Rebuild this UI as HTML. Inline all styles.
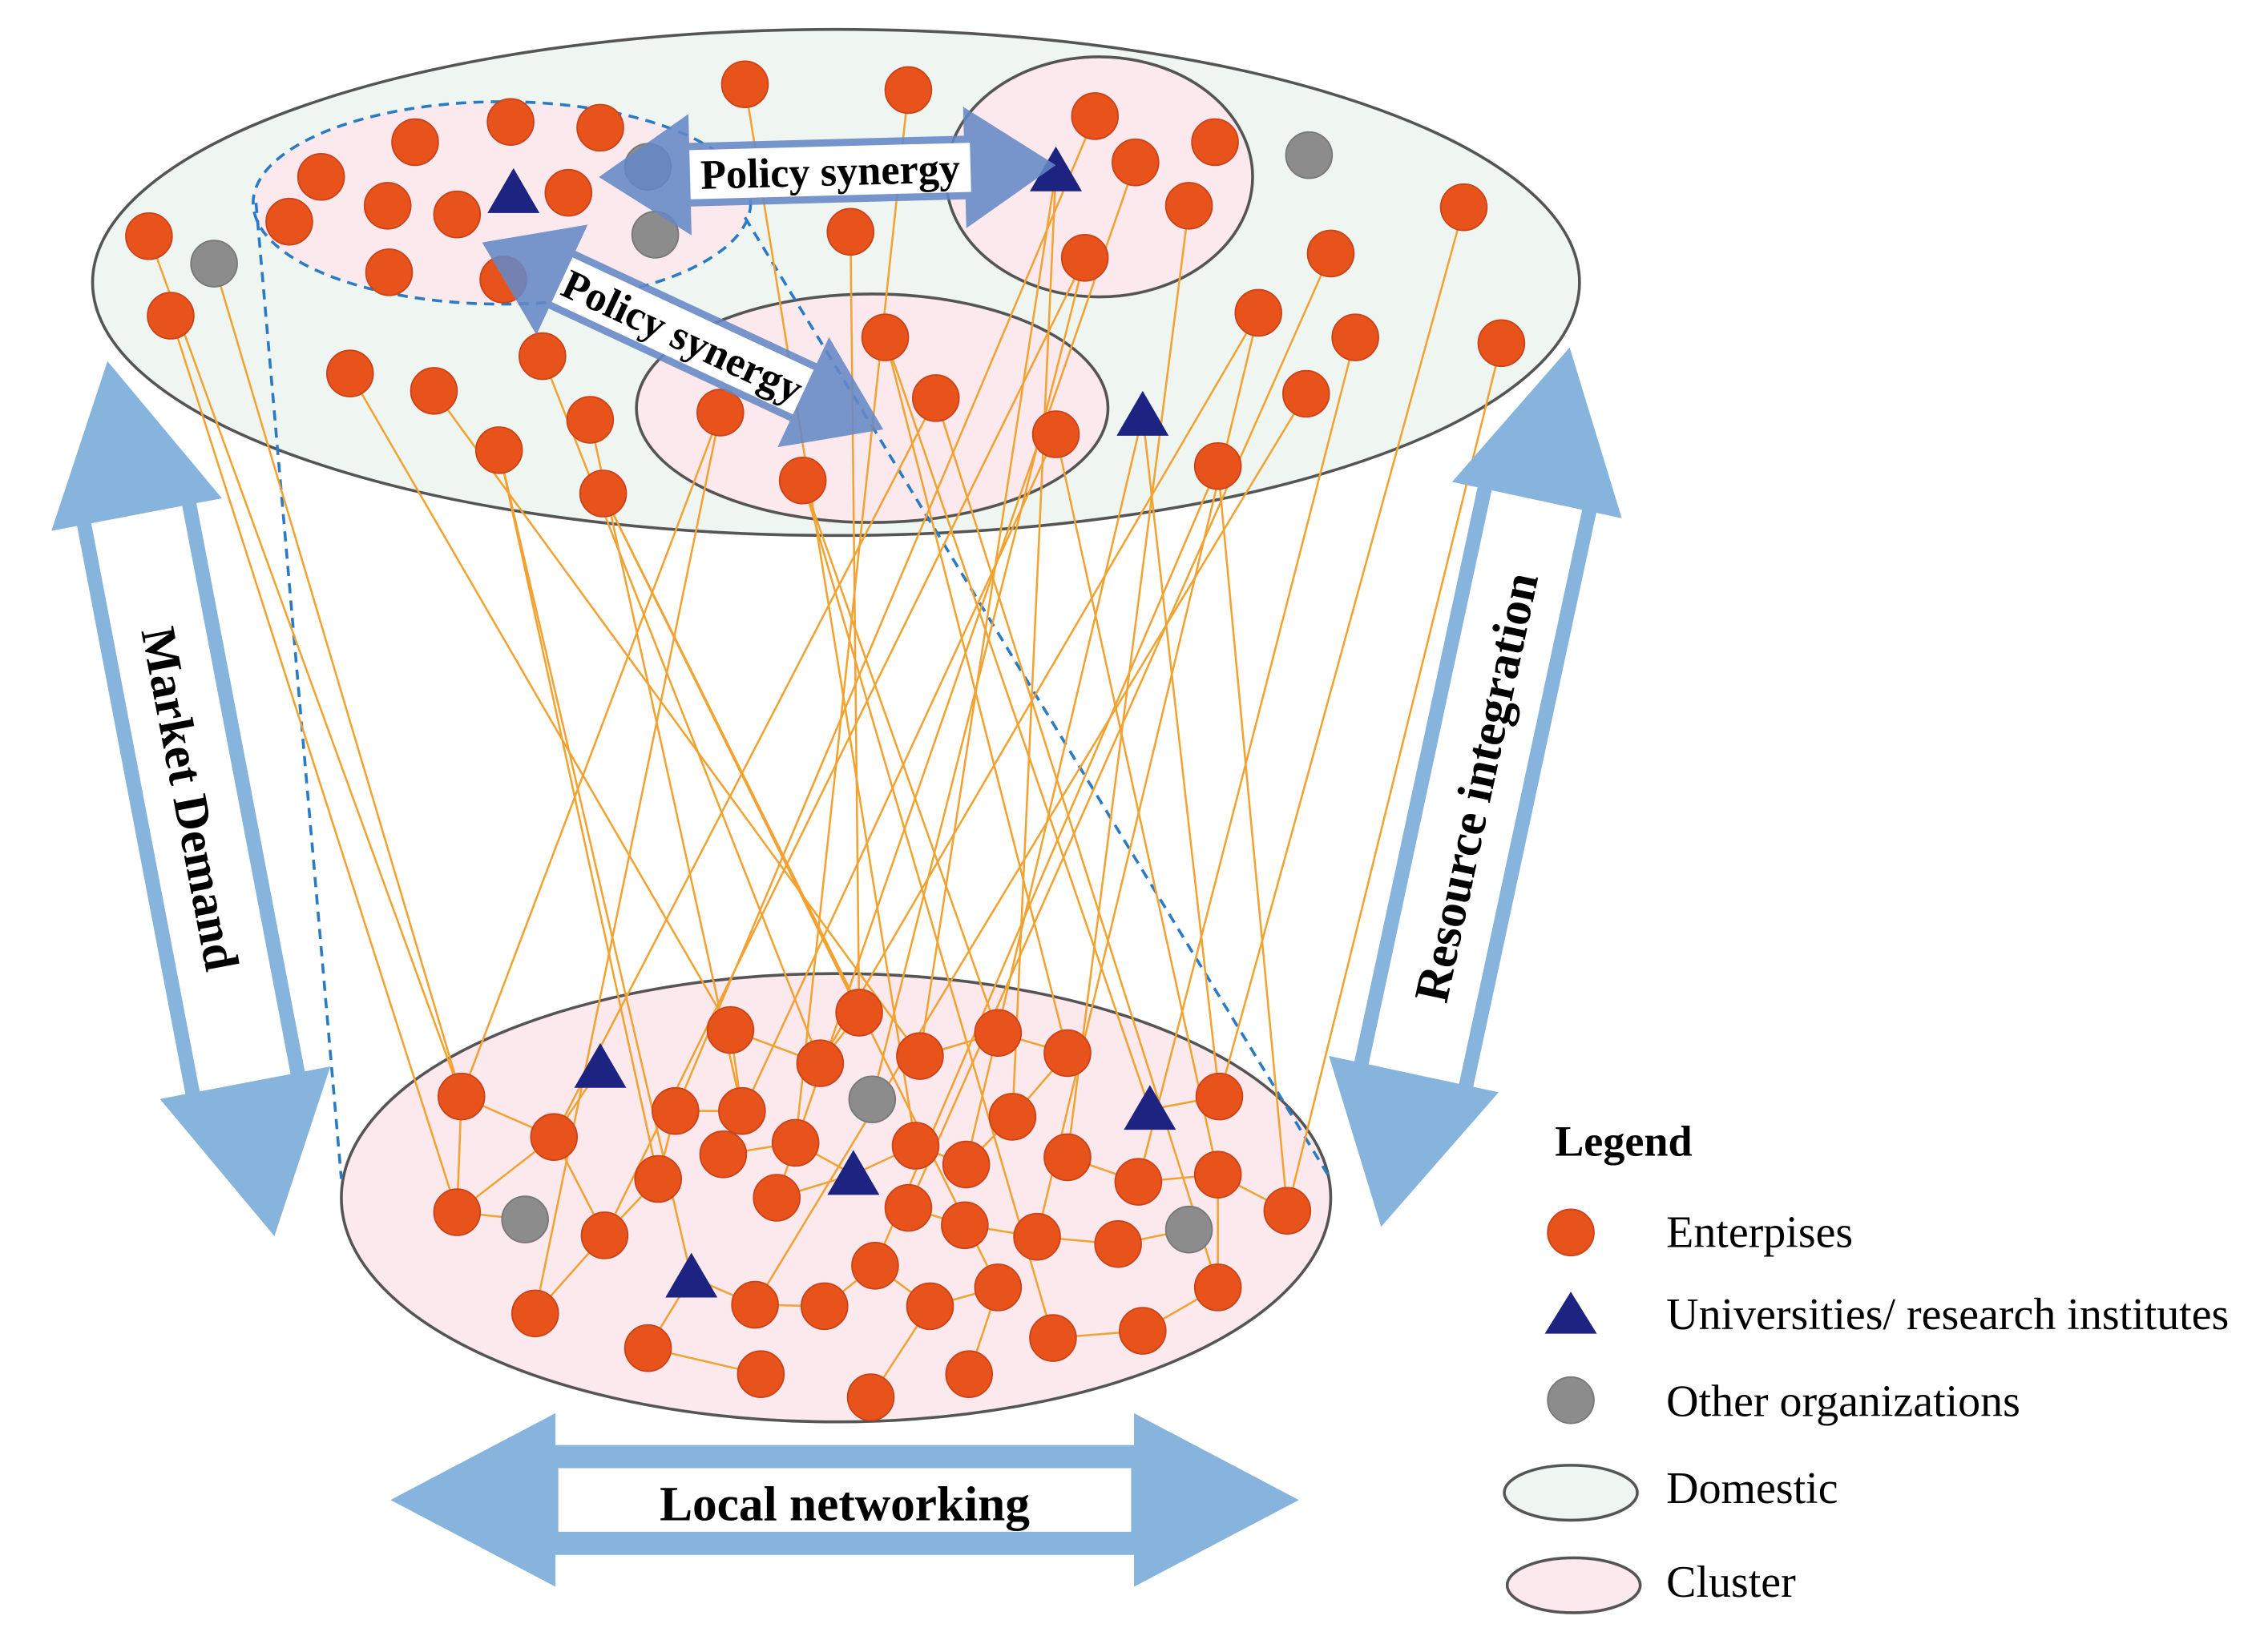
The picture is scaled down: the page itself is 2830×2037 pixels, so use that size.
<!DOCTYPE html>
<html><head><meta charset="utf-8"><style>
html,body{margin:0;padding:0;background:#fff;}
svg{display:block;}
text{font-family:"Liberation Serif",serif;}
</style></head><body>
<svg width="2830" height="2037" viewBox="0 0 1568 1128" xmlns="http://www.w3.org/2000/svg">
<defs>
<g id="e"><circle r="16" fill="#e8531b" stroke="#c9431a" stroke-width="1"/></g>
<g id="g"><circle r="16" fill="#8c8c8c" stroke="#777" stroke-width="1"/></g>
<g id="t"><polygon points="0,-17 18,14 -18,14" fill="#1d2380"/></g>
</defs>
<ellipse cx="578" cy="195" rx="514" ry="175" fill="#eff6f2" stroke="#555" stroke-width="2"/>
<ellipse cx="347" cy="140" rx="172" ry="70" fill="#fbe9ee" stroke="#2a7bc4" stroke-width="2" stroke-dasharray="7,5"/>
<ellipse cx="760" cy="122" rx="106" ry="83" fill="#fbe9ee" stroke="#555" stroke-width="2"/>
<ellipse cx="603" cy="282" rx="163" ry="79" fill="#fbe9ee" stroke="#555" stroke-width="2"/>
<ellipse cx="578" cy="828" rx="342" ry="155" fill="#fbe9ee" stroke="#555" stroke-width="2"/>
<line x1="177" y1="140" x2="236" y2="815" stroke="#2a7bc4" stroke-width="2" stroke-dasharray="7,5"/>
<line x1="515" y1="150" x2="918" y2="812" stroke="#2a7bc4" stroke-width="2" stroke-dasharray="7,5"/>
<g stroke="#f2a230" stroke-width="1.4">
<line x1="118" y1="218" x2="316" y2="838"/><line x1="148" y1="182" x2="319" y2="758"/>
<line x1="242" y1="258" x2="505" y2="712"/><line x1="300" y1="270" x2="636" y2="730"/>
<line x1="375" y1="246" x2="567" y2="735"/><line x1="408" y1="290" x2="513" y2="768"/>
<line x1="345" y1="311" x2="455" y2="815"/><line x1="417" y1="341" x2="594" y2="700"/>
<line x1="498" y1="285" x2="319" y2="758"/><line x1="555" y1="332" x2="690" y2="714"/>
<line x1="612" y1="233" x2="738" y2="728"/><line x1="647" y1="275" x2="383" y2="786"/>
<line x1="730" y1="300" x2="500" y2="798"/><line x1="588" y1="160" x2="594" y2="700"/>
<line x1="628" y1="62" x2="550" y2="790"/><line x1="515" y1="58" x2="633" y2="792"/>
<line x1="730" y1="118" x2="700" y2="772"/><line x1="757" y1="80" x2="467" y2="768"/>
<line x1="750" y1="178" x2="418" y2="854"/><line x1="785" y1="112" x2="537" y2="828"/>
<line x1="822" y1="142" x2="738" y2="800"/><line x1="790" y1="287" x2="843" y2="758"/>
<line x1="790" y1="287" x2="668" y2="805"/><line x1="842" y1="322" x2="890" y2="837"/>
<line x1="903" y1="272" x2="522" y2="902"/><line x1="920" y1="175" x2="628" y2="835"/>
<line x1="937" y1="233" x2="787" y2="817"/><line x1="870" y1="216" x2="717" y2="855"/>
<line x1="1012" y1="143" x2="843" y2="758"/><line x1="1038" y1="237" x2="890" y2="837"/>
<line x1="842" y1="322" x2="605" y2="875"/><line x1="730" y1="300" x2="842" y2="812"/>
<line x1="612" y1="233" x2="795" y2="767"/><line x1="555" y1="332" x2="728" y2="925"/>
<line x1="498" y1="285" x2="370" y2="908"/><line x1="417" y1="341" x2="690" y2="890"/>
<line x1="345" y1="311" x2="478" y2="883"/><line x1="647" y1="275" x2="842" y2="890"/>
<line x1="750" y1="178" x2="603" y2="760"/><line x1="870" y1="216" x2="567" y2="735"/>
<line x1="103" y1="163" x2="319" y2="758"/><line x1="730" y1="118" x2="636" y2="730"/>
<line x1="319" y1="758" x2="383" y2="786"/><line x1="383" y1="786" x2="415" y2="738"/>
<line x1="316" y1="838" x2="383" y2="786"/><line x1="383" y1="786" x2="418" y2="854"/>
<line x1="418" y1="854" x2="455" y2="815"/><line x1="455" y1="815" x2="467" y2="768"/>
<line x1="467" y1="768" x2="513" y2="768"/><line x1="513" y1="768" x2="505" y2="712"/>
<line x1="500" y1="798" x2="550" y2="790"/><line x1="550" y1="790" x2="590" y2="812"/>
<line x1="537" y1="828" x2="590" y2="812"/><line x1="590" y1="812" x2="633" y2="792"/>
<line x1="633" y1="792" x2="668" y2="805"/><line x1="668" y1="805" x2="700" y2="772"/>
<line x1="628" y1="835" x2="667" y2="847"/><line x1="667" y1="847" x2="717" y2="855"/>
<line x1="717" y1="855" x2="773" y2="860"/><line x1="773" y1="860" x2="822" y2="850"/>
<line x1="738" y1="800" x2="787" y2="817"/><line x1="787" y1="817" x2="842" y2="812"/>
<line x1="795" y1="767" x2="843" y2="758"/><line x1="842" y1="812" x2="890" y2="837"/>
<line x1="418" y1="854" x2="370" y2="908"/><line x1="448" y1="932" x2="526" y2="950"/>
<line x1="478" y1="883" x2="522" y2="902"/><line x1="522" y1="902" x2="570" y2="903"/>
<line x1="570" y1="903" x2="605" y2="875"/><line x1="605" y1="875" x2="643" y2="903"/>
<line x1="643" y1="903" x2="690" y2="890"/><line x1="670" y1="950" x2="690" y2="890"/>
<line x1="728" y1="925" x2="790" y2="920"/><line x1="790" y1="920" x2="842" y2="890"/>
<line x1="636" y1="730" x2="690" y2="714"/><line x1="690" y1="714" x2="738" y2="728"/>
<line x1="594" y1="700" x2="567" y2="735"/><line x1="738" y1="728" x2="700" y2="772"/>
<line x1="363" y1="843" x2="316" y2="838"/><line x1="319" y1="758" x2="316" y2="838"/>
<line x1="448" y1="932" x2="478" y2="883"/><line x1="602" y1="966" x2="643" y2="903"/>
<line x1="842" y1="890" x2="842" y2="812"/><line x1="505" y1="712" x2="567" y2="735"/>
</g>
<g>
<use href="#e" x="515" y="58"/><use href="#e" x="628" y="62"/><use href="#e" x="757" y="80"/>
<use href="#e" x="840" y="98"/><use href="#e" x="785" y="112"/><use href="#e" x="822" y="142"/>
<use href="#e" x="750" y="178"/><use href="#g" x="905" y="107"/><use href="#e" x="1012" y="143"/>
<use href="#e" x="920" y="175"/><use href="#e" x="870" y="216"/><use href="#e" x="937" y="233"/>
<use href="#e" x="1038" y="237"/><use href="#e" x="903" y="272"/><use href="#e" x="842" y="322"/>
<use href="#t" x="790" y="287"/><use href="#e" x="730" y="300"/><use href="#e" x="647" y="275"/>
<use href="#e" x="612" y="233"/><use href="#e" x="588" y="160"/><use href="#e" x="498" y="285"/>
<use href="#e" x="555" y="332"/><use href="#g" x="453" y="162"/><use href="#g" x="448" y="115"/>
<use href="#e" x="393" y="133"/><use href="#e" x="415" y="88"/><use href="#e" x="353" y="84"/>
<use href="#e" x="287" y="98"/><use href="#e" x="222" y="122"/><use href="#e" x="268" y="142"/>
<use href="#e" x="316" y="148"/><use href="#e" x="200" y="153"/><use href="#e" x="269" y="188"/>
<use href="#e" x="348" y="193"/><use href="#t" x="355" y="133"/><use href="#e" x="103" y="163"/>
<use href="#g" x="148" y="182"/><use href="#e" x="118" y="218"/><use href="#e" x="242" y="258"/>
<use href="#e" x="300" y="270"/><use href="#e" x="375" y="246"/><use href="#e" x="408" y="290"/>
<use href="#e" x="345" y="311"/><use href="#e" x="417" y="341"/><use href="#t" x="730" y="118"/>
</g>
<g>
<use href="#e" x="319" y="758"/><use href="#e" x="383" y="786"/><use href="#t" x="415" y="738"/>
<use href="#e" x="316" y="838"/><use href="#g" x="363" y="843"/><use href="#e" x="418" y="854"/>
<use href="#e" x="370" y="908"/><use href="#e" x="448" y="932"/><use href="#t" x="478" y="883"/>
<use href="#e" x="455" y="815"/><use href="#e" x="467" y="768"/><use href="#e" x="505" y="712"/>
<use href="#e" x="513" y="768"/><use href="#e" x="500" y="798"/><use href="#e" x="550" y="790"/>
<use href="#e" x="537" y="828"/><use href="#e" x="522" y="902"/><use href="#e" x="526" y="950"/>
<use href="#e" x="570" y="903"/><use href="#e" x="605" y="875"/><use href="#e" x="602" y="966"/>
<use href="#e" x="643" y="903"/><use href="#e" x="670" y="950"/><use href="#e" x="690" y="890"/>
<use href="#e" x="728" y="925"/><use href="#e" x="790" y="920"/><use href="#e" x="842" y="890"/>
<use href="#e" x="842" y="812"/><use href="#e" x="843" y="758"/><use href="#t" x="795" y="767"/>
<use href="#e" x="787" y="817"/><use href="#e" x="738" y="800"/><use href="#e" x="738" y="728"/>
<use href="#e" x="700" y="772"/><use href="#e" x="690" y="714"/><use href="#e" x="636" y="730"/>
<use href="#e" x="594" y="700"/><use href="#e" x="567" y="735"/><use href="#g" x="603" y="760"/>
<use href="#e" x="633" y="792"/><use href="#t" x="590" y="812"/><use href="#e" x="628" y="835"/>
<use href="#e" x="667" y="847"/><use href="#e" x="668" y="805"/><use href="#e" x="717" y="855"/>
<use href="#e" x="773" y="860"/><use href="#g" x="822" y="850"/><use href="#e" x="890" y="837"/>
</g>
<g transform="translate(572,118) rotate(-1.5)">
<polygon points="-158,0 -95,-42 -95,-22 95,-22 95,-42 158,0 95,42 95,22 -95,22 -95,42" fill="#6487c6" opacity="0.88"/>
<rect x="-95" y="-17" width="194" height="34" fill="#fff"/>
<text x="2" y="10" font-size="29" font-weight="bold" text-anchor="middle">Policy synergy</text>
</g>
<g transform="translate(472,232) rotate(25)">
<polygon points="-153,0 -92,-42 -92,-22 92,-22 92,-42 153,0 92,42 92,22 -92,22 -92,42" fill="#6487c6" opacity="0.88"/>
<rect x="-92" y="-17" width="184" height="34" fill="#fff"/>
<text x="0" y="10" font-size="29" font-weight="bold" text-anchor="middle">Policy synergy</text>
</g>
<g transform="translate(132,552) rotate(79.2)">
<polygon points="-308,0 -200,-60 -200,-42 200,-42 200,-60 308,0 200,60 200,42 -200,42 -200,60" fill="#86b4dc"/>
<rect x="-200" y="-32" width="400" height="64" fill="#fff"/>
<text x="0" y="12" font-size="34" font-weight="bold" text-anchor="middle">Market Demand</text>
</g>
<g transform="translate(1020,544) rotate(-77.9)">
<polygon points="-311,0 -203,-60 -203,-42 203,-42 203,-60 311,0 203,60 203,42 -203,42 -203,60" fill="#86b4dc"/>
<rect x="-203" y="-32" width="406" height="64" fill="#fff"/>
<text x="0" y="12" font-size="34" font-weight="bold" text-anchor="middle">Resource integration</text>
</g>
<g transform="translate(584,1037)">
<polygon points="-314,0 -200,-60 -200,-38 200,-38 200,-60 314,0 200,60 200,38 -200,38 -200,60" fill="#86b4dc"/>
<rect x="-198" y="-22" width="396" height="44" fill="#fff"/>
<text x="0" y="14" font-size="34" font-weight="bold" text-anchor="middle">Local networking</text>
</g>
<text x="1075" y="799" font-size="30" font-weight="bold">Legend</text>
<use href="#e" x="1086" y="852"/>
<text x="1152" y="862" font-size="31">Enterpises</text>
<polygon points="1086,893 1104,922 1068,922" fill="#1d2380"/>
<text x="1152" y="919" font-size="31">Universities/ research institutes</text>
<use href="#g" x="1086" y="968"/>
<text x="1152" y="979" font-size="31">Other organizations</text>
<ellipse cx="1086" cy="1032" rx="46" ry="19" fill="#eff6f2" stroke="#555" stroke-width="2"/>
<text x="1152" y="1039" font-size="31">Domestic</text>
<ellipse cx="1088" cy="1096" rx="46" ry="19" fill="#fbe9ee" stroke="#555" stroke-width="2"/>
<text x="1152" y="1104" font-size="31">Cluster</text>
</svg>
</body></html>
